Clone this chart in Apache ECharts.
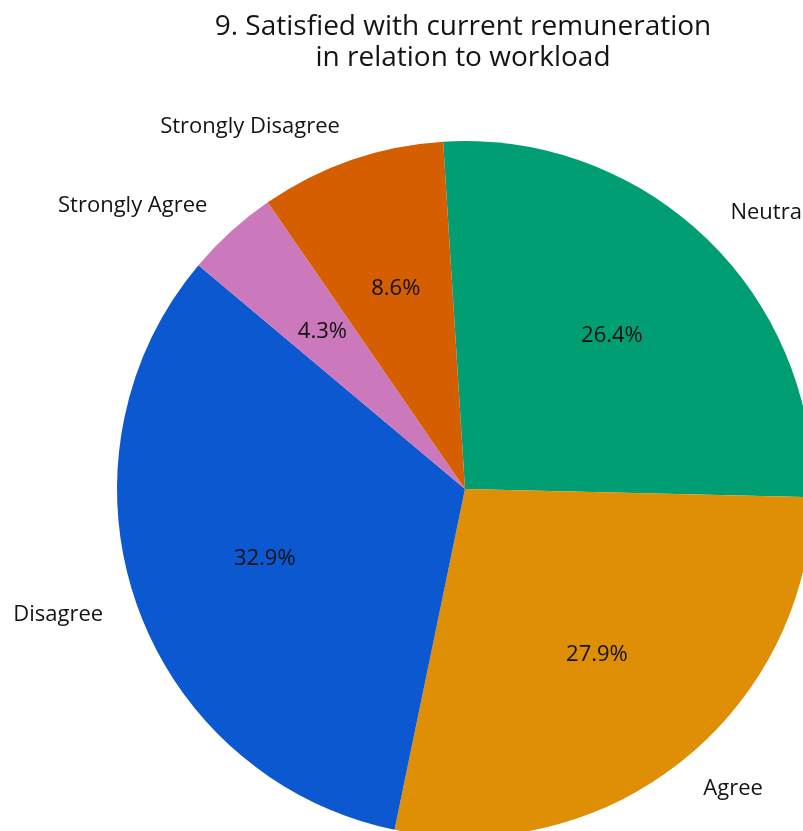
<!DOCTYPE html>
<html>
<head>
<meta charset="utf-8">
<script src="https://cdn.jsdelivr.net/npm/echarts@6/dist/echarts.min.js"></script>
<style>
  html, body { margin: 0; padding: 0; background: #ffffff; }
  #chart { width: 803px; height: 831px; }
</style>
</head>
<body>
<div id="chart"></div>
<script>
// Survey question 9: share of responses per answer (percent)
const categories = ['Neutral', 'Agree', 'Disagree', 'Strongly Agree', 'Strongly Disagree'];
const shares = [26.4, 27.9, 32.9, 4.3, 8.6];
const sliceColors = ['#029e73', '#de8f05', '#0b58d0', '#cc78bc', '#d55e00'];
const titleLines = ['9. Satisfied with current remuneration', 'in relation to workload'];

const FONT = '"Open Sans", Roboto, sans-serif';
const pieData = categories.map((name, i) => ({
  name: name,
  value: shares[i],
  itemStyle: { color: sliceColors[i] }
}));

const chart = echarts.init(document.getElementById('chart'), null, { renderer: 'canvas' });
chart.setOption({
  backgroundColor: '#ffffff',
  animation: false,
  title: {
    text: titleLines.join('\n'),
    left: 458,
    top: 7,
    textAlign: 'center',
    textStyle: {
      fontFamily: FONT,
      fontSize: 28,
      fontWeight: 'normal',
      color: '#141414',
      lineHeight: 31
    }
  },
  series: [
    {
      // slices with category names outside
      type: 'pie',
      center: [465, 489],
      radius: [0, 348],
      startAngle: 93.6,
      clockwise: true,
      avoidLabelOverlap: false,
      silent: true,
      data: pieData,
      itemStyle: { borderWidth: 0 },
      label: {
        show: true,
        position: 'outside',
        alignTo: 'none',
        distanceToLabelLine: 0,
        formatter: '{b}',
        fontFamily: FONT,
        fontSize: 22,
        color: '#141414'
      },
      labelLine: { show: false, length: 35, length2: 0 }
    },
    {
      // percentage labels inside each slice
      type: 'pie',
      center: [465, 489],
      radius: [70, 348],
      startAngle: 93.6,
      clockwise: true,
      avoidLabelOverlap: false,
      silent: true,
      data: pieData.map(d => ({ name: d.name, value: d.value })),
      itemStyle: { color: 'rgba(0,0,0,0)', borderWidth: 0 },
      label: {
        show: true,
        position: 'inside',
        formatter: p => p.value + '%',
        fontFamily: FONT,
        fontSize: 22,
        color: '#111111'
      },
      labelLine: { show: false }
    }
  ]
});
</script>
</body>
</html>
